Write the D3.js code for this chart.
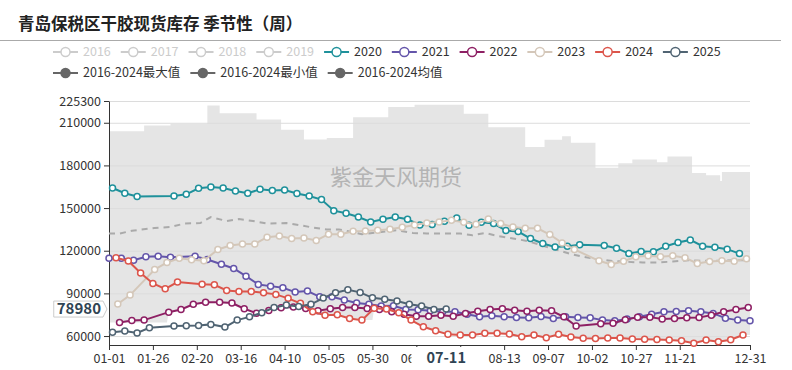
<!DOCTYPE html>
<html>
<head>
<meta charset="utf-8" />
<title>青岛保税区干胶现货库存 季节性</title>
<style>
body { margin: 0; background: #fff; }
#graph { width: 792px; height: 370px; }
text { font-family: "Noto Sans CJK SC", "Microsoft YaHei", sans-serif; }
.axis .domain { stroke: #333; }
.axis .tick line { stroke: #333; }
.axis .tick text { fill: #333; font-size: 12.5px; }
.grid .tick line { stroke: #dcdcdc; }
.grid .domain { display: none; }
</style>
</head>
<body>
<div id="graph"></div>
<script src="https://d3js.org/d3.v7.min.js"></script>
<script>
// ---- data ----
var titleText = "青岛保税区干胶现货库存 季节性（周）";
var watermarkText = "紫金天风期货";
var yMin = 53700, yMax = 225300;
var yTicks = [60000, 90000, 120000, 150000, 180000, 210000, 225300];
var xTicks = ["01-01","01-26","02-20","03-16","04-10","05-05","05-30","06-24","07-19","08-13","09-07","10-02","10-27","11-21","12-31"];
var xHiddenLabels = ["07-19"];
var legendYears = ["2016","2017","2018","2019","2020","2021","2022","2023","2024","2025"];
var hiddenYears = ["2016","2017","2018","2019"];
var statNames = ["2016-2024最大值","2016-2024最小值","2016-2024均值"];
var pointerDate = "07-11";
var pointerValue = 78980;

var dates2020 = ["01-03","01-10","01-17","02-07","02-14","02-21","02-28","03-06","03-13","03-20","03-27","04-03","04-10","04-17","04-24","05-01","05-08","05-15","05-22","05-29","06-05","06-12","06-19","06-26","07-03","07-10","07-17","07-24","07-31","08-07","08-14","08-21","08-28","09-04","09-11","09-18","09-25","10-09","10-16","10-23","10-30","11-06","11-13","11-20","11-27","12-04","12-11","12-18","12-25"];
var values2020 = [164100,160400,158100,158500,159700,163900,164800,164100,162000,160400,163200,162300,162700,160200,158500,156000,148200,146300,143700,140200,142100,143700,142100,138100,138400,140700,143000,137900,140000,139100,134200,133500,128600,125100,122700,123100,124200,123700,121800,118000,119500,119200,123200,125800,127600,123200,122500,121100,118000];

var dates2021 = ["01-01","01-08","01-15","01-22","01-29","02-05","02-19","02-26","03-05","03-12","03-19","03-26","04-02","04-09","04-16","04-23","04-30","05-07","05-14","05-21","05-28","06-04","06-11","06-18","06-25","07-02","07-09","07-16","07-23","07-30","08-06","08-13","08-20","08-27","09-03","09-10","09-17","09-24","10-01","10-08","10-15","10-22","10-29","11-05","11-12","11-19","11-26","12-03","12-10","12-17","12-24","12-31"];
var values2021 = [114700,114700,113300,115700,116200,115500,116200,113800,110500,107500,102100,96300,95100,93900,90900,91600,87600,87600,85400,83200,82300,81100,81300,78700,78500,77800,77100,77100,75400,73500,74200,73500,73100,72800,73800,72400,73500,73100,72800,71200,70700,71900,73500,75300,77000,77200,77800,77100,75900,72600,71200,70700];

var dates2022 = ["01-07","01-14","01-21","02-04","02-11","02-18","02-25","03-04","03-11","03-18","03-25","04-01","04-08","04-15","04-22","04-29","05-06","05-13","05-20","05-27","06-03","06-10","06-17","06-24","07-01","07-08","07-15","07-22","07-29","08-05","08-12","08-19","08-26","09-02","09-09","09-16","09-23","10-07","10-14","10-21","10-28","11-04","11-11","11-18","11-25","12-02","12-09","12-16","12-23","12-30"];
var values2022 = [69600,71000,71200,76800,78700,82300,83700,83700,83200,79200,76100,78000,79900,80500,79400,77800,79200,80000,80100,79400,78700,77100,75400,74000,74000,74700,74000,75900,77500,78700,79200,78200,77500,78200,77800,73500,67000,68700,69000,71400,73300,73300,72000,72400,72800,73100,74700,77100,78700,80100];

var dates2023 = ["01-06","01-13","01-27","02-03","02-10","02-17","02-24","03-03","03-10","03-17","03-24","03-31","04-07","04-14","04-21","04-28","05-05","05-12","05-19","05-26","06-02","06-09","06-16","06-23","06-30","07-07","07-14","07-21","07-28","08-04","08-11","08-18","08-25","09-01","09-08","09-15","09-22","10-06","10-13","10-20","10-27","11-03","11-10","11-17","11-24","12-01","12-08","12-15","12-22","12-29"];
var values2023 = [82500,88800,106800,111700,114700,113600,112900,120900,123700,124800,124800,129500,130400,128600,129000,127200,131600,131600,133700,133900,134400,135100,136500,138100,139500,140200,141400,140000,138600,142300,139100,136700,135800,135800,131400,125500,120900,112900,110300,112600,115700,116400,115700,116400,115000,111000,112400,112900,112600,114300];

var dates2024 = ["01-05","01-12","01-19","01-26","02-02","02-09","02-23","03-01","03-08","03-15","03-22","03-29","04-05","04-12","04-19","04-26","05-03","05-10","05-17","05-24","05-31","06-07","06-14","06-21","06-28","07-05","07-12","07-19","07-26","08-02","08-09","08-16","08-23","08-30","09-06","09-13","09-20","09-27","10-04","10-11","10-18","10-25","11-01","11-08","11-15","11-22","11-29","12-06","12-13","12-20","12-27"];
var values2024 = [115000,112800,104400,97000,93200,98000,96500,96000,92100,91400,91400,90400,89300,86500,83000,77100,74700,74900,72400,71200,79500,79000,76400,71200,66500,63700,61200,60700,60700,61900,61900,61400,59500,60700,58800,61300,59300,58500,58200,58700,58700,58000,57800,57500,57200,56700,54900,57200,56000,57400,60700];

var dates2025 = ["01-03","01-10","01-17","01-24","02-07","02-14","02-21","02-28","03-07","03-14","03-21","03-28","04-04","04-11","04-18","04-25","05-02","05-09","05-16","05-23","05-30","06-06","06-13","06-20","06-27","07-04","07-11"];
var values2025 = [62700,63500,62200,65800,67000,67200,67500,68200,66300,71200,73500,76400,80100,81800,80800,82300,86700,90500,92500,90700,86900,85800,84600,82300,81100,78700,78980];

var maxDates = ["01-01","01-21","02-05","02-26","03-04","03-25","04-08","04-21","05-04","05-19","06-08","06-23","07-21","08-04","08-25","09-05","09-15","09-20","10-04","10-17","10-25","11-08","11-14","11-28","12-06","12-14","12-15","12-31"];
var maxValues = [204100,208100,209300,222100,216700,212300,205100,198300,199300,213900,221000,222600,216300,206900,192900,198000,200500,196000,178400,181600,184200,182300,186300,174600,173000,169000,175300,175300];

var minDates = ["01-01","02-03","02-04","02-11","02-18","02-25","03-04","03-11","03-18","03-25","04-01","04-08","04-15","04-22","04-26","05-03","05-10","05-17","05-24","05-30","05-31","06-07","06-14","06-21","06-28","07-05","07-12","07-19","07-26","08-02","08-09","08-16","08-23","08-30","09-06","09-13","09-20","09-27","10-04","10-11","10-18","10-25","11-01","11-08","11-15","11-22","11-29","12-06","12-13","12-20","12-27","12-31"];
var minValues = [69600,69600,76800,78700,82300,83700,83700,83200,79200,76100,78000,79900,80500,79400,77100,74700,74900,72400,71200,71200,79500,79000,76400,71200,66500,63700,61200,60700,60700,61900,61900,61400,59500,60700,58800,61300,59300,58500,58200,58700,58700,58000,57800,57500,57200,56700,54900,57200,56000,57400,60700,60700];

var meanDates = ["01-01","01-07","01-14","01-27","02-05","02-13","02-22","02-28","03-08","03-15","03-23","03-31","04-11","04-19","04-26","05-04","05-11","05-17","05-24","06-03","06-13","06-22","06-30","07-09","07-19","07-26","08-02","08-10","08-18","08-26","09-02","09-11","09-19","09-27","10-05","10-14","10-22","10-31","11-08","11-17","11-26","12-05","12-13","12-22","12-31"];
var meanValues = [132100,132100,134000,136000,136700,139100,139500,143700,140900,142300,140900,139100,139500,137900,136300,134900,134900,133500,131600,133000,134400,132500,132100,132100,132100,130900,132500,130200,128600,126900,124300,121000,118000,115700,114000,112800,112200,111700,111700,112400,113300,112900,112900,113300,113300];

!(function(){
    "use strict"
    var width = 792, height = 370;
    var margin = {top:101, left:109, bottom:25, right:42};
    var chartWidth = width - (margin.left + margin.right);
    var chartHeight = height - (margin.top + margin.bottom);

    var yearColor = {"2020":"#1f919b","2021":"#6455aa","2022":"#8e2064","2023":"#d4c7b9","2024":"#dc554b","2025":"#506473"};
    var monthStart = [0,31,60,91,121,152,182,213,244,274,305,335];   // leap-year calendar

    function dayIndex(s) {
        var p = s.split("-");
        return monthStart[+p[0] - 1] + (+p[1]) - 1;
    }
    function toPoints(dates, values) {
        return dates.map(function(d, i){ return {x: dayIndex(d), y: values[i]} });
    }

    var svg = d3.select("#graph").append("svg").attr("width", width).attr("height", height);
    var headLayer = svg.append("g");
    var chartLayer = svg.append("g").attr("transform", "translate("+[margin.left, margin.top]+")");

    var xScale = d3.scaleLinear().domain([0, 365]).range([0, chartWidth]);
    var yScale = d3.scaleLinear().domain([yMin, yMax]).range([chartHeight, 0]);

    var yearSeries = [
        {name:"2020", data: toPoints(dates2020, values2020)},
        {name:"2021", data: toPoints(dates2021, values2021)},
        {name:"2022", data: toPoints(dates2022, values2022)},
        {name:"2023", data: toPoints(dates2023, values2023)},
        {name:"2024", data: toPoints(dates2024, values2024)},
        {name:"2025", data: toPoints(dates2025, values2025)}
    ];

    drawHeader();
    drawBand();
    drawAxis();
    drawLines();
    drawPointer();

    function drawHeader() {
        headLayer.append("text")
            .attr("x", 18).attr("y", 30)
            .attr("font-size", 16.5).attr("font-weight", "bold").attr("fill", "#222")
            .text(titleText);
        headLayer.append("line")
            .attr("x1", 0).attr("x2", 781).attr("y1", 40.5).attr("y2", 40.5)
            .attr("stroke", "#aaa");

        var rows = [
            legendYears.map(function(y){ return {name:y, hidden: hiddenYears.indexOf(y) >= 0, color: yearColor[y], filled:false} }),
            statNames.map(function(s){ return {name:s, hidden:false, color:"#666", filled:true} })
        ];
        rows.forEach(function(items, r) {
            var cy = 52 + r * 21;
            var x = 53;
            items.forEach(function(it) {
                var c = it.hidden ? "#ccc" : it.color;
                var g = headLayer.append("g");
                g.append("line").attr("x1", x).attr("x2", x + 25).attr("y1", cy).attr("y2", cy)
                    .attr("stroke", c).attr("stroke-width", 2);
                g.append("circle").attr("cx", x + 12.5).attr("cy", cy).attr("r", 4.5)
                    .attr("fill", it.filled ? c : "#fff").attr("stroke", c).attr("stroke-width", 1.5);
                var t = g.append("text").attr("x", x + 30).attr("y", cy).attr("dy", "0.35em")
                    .attr("font-size", 12.5).attr("fill", it.hidden ? "#ccc" : "#333")
                    .text(it.name);
                x += 30 + t.node().getComputedTextLength() + 10;
            });
        });
    }

    function drawBand() {
        var maxData = toPoints(maxDates, maxValues);
        var minData = toPoints(minDates, minValues);
        var maxArea = d3.area()
            .x(function(d){ return xScale(d.x) })
            .y0(chartHeight)
            .y1(function(d){ return yScale(d.y) })
            .curve(d3.curveStepAfter);
        var minArea = d3.area()
            .x(function(d){ return xScale(d.x) })
            .y0(chartHeight)
            .y1(function(d){ return yScale(d.y) });
        chartLayer.append("path").datum(maxData).attr("d", maxArea).attr("fill", "#e5e5e5");
        chartLayer.append("path").datum(minData).attr("d", minArea).attr("fill", "#fff");

        chartLayer.append("text")
            .attr("x", 287).attr("y", 84)
            .attr("text-anchor", "middle")
            .attr("font-size", 22).attr("fill", "#b4b4b4")
            .text(watermarkText);
    }

    function drawAxis() {
        chartLayer.append("g").attr("class", "grid")
            .call(d3.axisLeft(yScale).tickValues(yTicks).tickSizeInner(-chartWidth).tickSizeOuter(0).tickFormat(""));

        chartLayer.append("g").attr("class", "axis y")
            .call(d3.axisLeft(yScale).tickValues(yTicks).tickSizeInner(5).tickSizeOuter(0).tickPadding(3).tickFormat(d3.format("d")));

        chartLayer.append("g").attr("class", "axis x")
            .attr("transform", "translate(0," + chartHeight + ")")
            .call(d3.axisBottom(xScale).tickValues(xTicks.map(dayIndex)).tickSizeInner(5).tickSizeOuter(0).tickPadding(4)
                .tickFormat(function(d, i){ return xHiddenLabels.indexOf(xTicks[i]) >= 0 ? "" : xTicks[i] }));
    }

    function drawLines() {
        var lineGen = d3.line()
            .x(function(d){ return xScale(d.x) })
            .y(function(d){ return yScale(d.y) });

        chartLayer.append("path")
            .datum(toPoints(meanDates, meanValues))
            .attr("d", lineGen)
            .attr("fill", "none").attr("stroke", "#aaa").attr("stroke-width", 2)
            .attr("stroke-dasharray", "6 5");

        var groups = chartLayer.selectAll(".series").data(yearSeries).enter()
            .append("g").attr("class", "series");
        groups.append("path")
            .attr("d", function(s){ return lineGen(s.data) })
            .attr("fill", "none")
            .attr("stroke", function(s){ return yearColor[s.name] })
            .attr("stroke-width", 2);
        groups.each(function(s) {
            d3.select(this).selectAll("circle").data(s.data).enter().append("circle")
                .attr("cx", function(d){ return xScale(d.x) })
                .attr("cy", function(d){ return yScale(d.y) })
                .attr("r", 3)
                .attr("fill", "#fff")
                .attr("stroke", yearColor[s.name])
                .attr("stroke-width", 1.5);
        });
    }

    function drawPointer() {
        // x axis pointer label
        var px = xScale(dayIndex(pointerDate));
        var xl = chartLayer.append("g");
        var xr = xl.append("rect").attr("fill", "#fff");
        var xt = xl.append("text").attr("x", px).attr("y", chartHeight + 13).attr("dy", "0.35em")
            .attr("text-anchor", "middle").attr("font-size", 14.5).attr("font-weight", "bold")
            .attr("fill", "#2f4454").text(pointerDate);
        var w = xt.node().getComputedTextLength();
        xr.attr("x", px - w / 2 - 15).attr("y", chartHeight + 2).attr("width", w + 30).attr("height", 22);

        // y axis pointer label
        var py = yScale(pointerValue);
        var yl = chartLayer.append("g");
        var yp = yl.append("path").attr("fill", "#fff").attr("stroke", "#ccc");
        var yt = yl.append("text").attr("x", -8).attr("y", py).attr("dy", "0.35em")
            .attr("text-anchor", "end").attr("font-size", 15).attr("font-weight", "bold")
            .attr("fill", "#2f4454").text(pointerValue);
        var tw = yt.node().getComputedTextLength();
        var left = -8 - tw - 3;
        yp.attr("d", "M" + left + "," + (py - 8) + "H-6L-2," + py + "L-6," + (py + 8) + "H" + left + "Z");
    }
}());
</script>
</body>
</html>
